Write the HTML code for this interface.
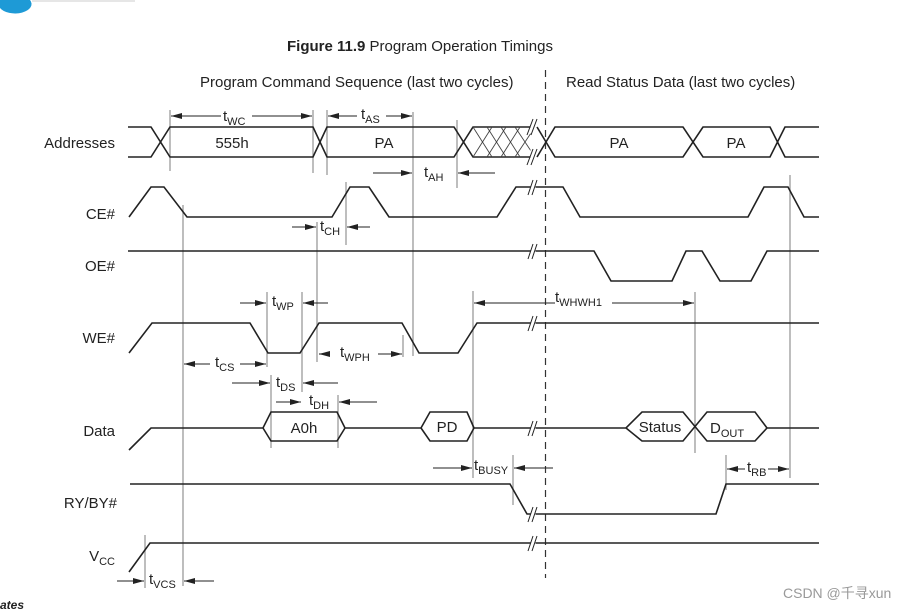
<!DOCTYPE html>
<html><head><meta charset="utf-8"><style>
body{margin:0;background:#fff;}
svg{display:block;font-family:"Liberation Sans",Arial,sans-serif;}
.s{fill:none;stroke:#222;stroke-width:1.6;}
.g{fill:none;stroke:#9a9a9a;stroke-width:1.3;}
.a{fill:none;stroke:#222;stroke-width:1.1;}
text{fill:#222;font-size:15px;}
.sub{font-size:11px;}
</style></head><body>
<svg width="905" height="609" viewBox="0 0 905 609" xmlns="http://www.w3.org/2000/svg">
<defs><marker id="ar" markerWidth="12" markerHeight="8" refX="11" refY="4" orient="auto" markerUnits="userSpaceOnUse"><path d="M0,1 L11,4 L0,7 Z" fill="#222"/></marker></defs>
<path d="M0,0 L30,0 A14,8 0 0 1 0,8 Z" fill="#1e9ad6"/>
<line x1="32" y1="1" x2="135" y2="1" stroke="#ccc"/>
<text x="287" y="51" style="font-size:15px"><tspan font-weight="bold">Figure 11.9</tspan>  Program Operation Timings</text>
<text x="200" y="87">Program Command Sequence (last two cycles)</text>
<text x="566" y="87">Read Status Data (last two cycles)</text>
<g text-anchor="end">
<text x="115" y="148">Addresses</text>
<text x="115" y="219">CE#</text>
<text x="115" y="271">OE#</text>
<text x="115" y="343">WE#</text>
<text x="115" y="436">Data</text>
<text x="117" y="508">RY/BY#</text>
<text x="115" y="561">V<tspan class="sub" dy="4">CC</tspan></text>
</g>
<line x1="545.5" y1="70" x2="545.5" y2="578" stroke="#333" stroke-width="1.2" stroke-dasharray="7,5"/>
<g class="g">
<line x1="183" y1="205" x2="183" y2="586"/>
<line x1="317" y1="222" x2="317" y2="362"/>
<line x1="346" y1="182" x2="346" y2="245"/>
<line x1="413" y1="112" x2="413" y2="356"/>
<line x1="170" y1="110" x2="170" y2="171"/>
<line x1="313" y1="110" x2="313" y2="173"/>
<line x1="327" y1="110" x2="327" y2="175"/>
<line x1="457" y1="120" x2="457" y2="188"/>
<line x1="473" y1="291" x2="473" y2="478"/>
<line x1="695" y1="292" x2="695" y2="453"/>
<line x1="790" y1="175" x2="790" y2="478"/>
<line x1="726" y1="455" x2="726" y2="490"/>
<line x1="513" y1="455" x2="513" y2="505"/>
<line x1="267" y1="292" x2="267" y2="367"/>
<line x1="302" y1="292" x2="302" y2="392"/>
<line x1="271" y1="375" x2="271" y2="448"/>
<line x1="338" y1="395" x2="338" y2="448"/>
<line x1="403" y1="335" x2="403" y2="357"/>
<line x1="145" y1="535" x2="145" y2="588"/>
</g>
<g class="s">
<path d="M128,127 L151,127 L170,157 L313,157 L327,127 L454,127 L473,157 L531,157"/>
<path d="M128,157 L151,157 L170,127 L313,127 L327,157 L454,157 L473,127 L531,127"/>
<path d="M537,127 L555,157 L683,157 L703,127 L770,127 L785,157 L819,157"/>
<path d="M537,157 L555,127 L683,127 L703,157 L770,157 L785,127 L819,127"/>
</g>
<g stroke="#444" stroke-width="0.9" fill="none">
<path d="M473,157 L492,127 M473,127 L492,157 M487,127 L506,157 M487,157 L506,127 M501,127 L520,157 M501,157 L520,127 M515,127 L531,151 M515,157 L531,133"/>
</g>
<text x="232" y="148" text-anchor="middle">555h</text>
<text x="384" y="148" text-anchor="middle">PA</text>
<text x="619" y="148" text-anchor="middle">PA</text>
<text x="736" y="148" text-anchor="middle">PA</text>
<path class="s" d="M129,217 L151,187 L164,187 L187,217 L332,217 L350,187 L369,187 L389,217 L497,217 L516,187 L563,187 L580,217 L748,217 L764,187 L788,187 L804,217 L819,217"/>
<path class="s" d="M128,251 L594,251 L611,281 L672,281 L686,251 L702,251 L720,281 L751,281 L767,251 L819,251"/>
<path class="s" d="M129,353 L152,323 L250,323 L268,353 L300,353 L319,323 L402,323 L419,353 L458,353 L477,323 L819,323"/>
<path class="s" d="M129,450 L151,428 L263,428 L271,412 L337,412 L345,428 L337,441 L271,441 L263,428 M345,428 L421,428 L430,412 L467,412 L474,428 L467,441 L430,441 L421,428 M474,428 L626,428 L642,412 L683,412 L707,441 L755,441 L767,428 L755,412 L707,412 L683,441 L642,441 L626,428 M767,428 L819,428"/>
<text x="304" y="433" text-anchor="middle">A0h</text>
<text x="447" y="432" text-anchor="middle">PD</text>
<text x="660" y="432" text-anchor="middle">Status</text>
<text x="710" y="433">D<tspan class="sub" dy="4">OUT</tspan></text>
<path class="s" d="M130,484 L510,484 L527,514 L716,514 L726,484 L819,484"/>
<path class="s" d="M129,572 L150,543 L819,543"/>
<g stroke="#fff" stroke-width="5">
<line x1="533" y1="120" x2="533" y2="164"/>
<line x1="533" y1="180" x2="533" y2="194"/>
<line x1="533" y1="244" x2="533" y2="258"/>
<line x1="533" y1="316" x2="533" y2="330"/>
<line x1="533" y1="421" x2="533" y2="435"/>
<line x1="533" y1="507" x2="533" y2="521"/>
<line x1="533" y1="536" x2="533" y2="550"/>
</g>
<g stroke="#222" stroke-width="1">
<path d="M527,135 L533,119 M531,135 L537,119 M527,165 L533,149 M531,165 L537,149"/>
<path d="M528,195 L533,180 M532,195 L537,180"/>
<path d="M528,259 L533,244 M532,259 L537,244"/>
<path d="M528,331 L533,316 M532,331 L537,316"/>
<path d="M528,436 L533,421 M532,436 L537,421"/>
<path d="M528,522 L533,507 M532,522 L537,507"/>
<path d="M528,551 L533,536 M532,551 L537,536"/>
</g>
<g class="a" marker-end="url(#ar)">
<line x1="221" y1="116" x2="171" y2="116"/><line x1="252" y1="116" x2="312" y2="116"/>
<line x1="357" y1="116" x2="328" y2="116"/><line x1="386" y1="116" x2="412" y2="116"/>
<line x1="373" y1="173" x2="412" y2="173"/><line x1="495" y1="173" x2="458" y2="173"/>
<line x1="292" y1="227" x2="316" y2="227"/><line x1="370" y1="227" x2="347" y2="227"/>
<line x1="240" y1="303" x2="266" y2="303"/><line x1="328" y1="303" x2="303" y2="303"/>
<line x1="555" y1="303" x2="474" y2="303"/><line x1="612" y1="303" x2="694" y2="303"/>
<line x1="327" y1="354" x2="319" y2="354"/><line x1="378" y1="354" x2="402" y2="354"/>
<line x1="210" y1="364" x2="184" y2="364"/><line x1="240" y1="364" x2="266" y2="364"/>
<line x1="232" y1="383" x2="270" y2="383"/><line x1="338" y1="383" x2="303" y2="383"/>
<line x1="276" y1="402" x2="301" y2="402"/><line x1="377" y1="402" x2="339" y2="402"/>
<line x1="433" y1="468" x2="472" y2="468"/><line x1="553" y1="468" x2="514" y2="468"/>
<line x1="745" y1="469" x2="727" y2="469"/><line x1="768" y1="469" x2="789" y2="469"/>
<line x1="117" y1="581" x2="144" y2="581"/><line x1="214" y1="581" x2="184" y2="581"/>
</g>
<g>
<text x="223" y="121">t<tspan class="sub" dy="4">WC</tspan></text>
<text x="361" y="119">t<tspan class="sub" dy="4">AS</tspan></text>
<text x="424" y="177">t<tspan class="sub" dy="4">AH</tspan></text>
<text x="320" y="231">t<tspan class="sub" dy="4">CH</tspan></text>
<text x="272" y="306">t<tspan class="sub" dy="4">WP</tspan></text>
<text x="555" y="302">t<tspan class="sub" dy="4">WHWH1</tspan></text>
<text x="340" y="357">t<tspan class="sub" dy="4">WPH</tspan></text>
<text x="215" y="367">t<tspan class="sub" dy="4">CS</tspan></text>
<text x="276" y="387">t<tspan class="sub" dy="4">DS</tspan></text>
<text x="309" y="405">t<tspan class="sub" dy="4">DH</tspan></text>
<text x="474" y="470">t<tspan class="sub" dy="4">BUSY</tspan></text>
<text x="747" y="472">t<tspan class="sub" dy="4">RB</tspan></text>
<text x="149" y="584">t<tspan class="sub" dy="4">VCS</tspan></text>
</g>
<text x="0" y="609" style="font-size:12px;font-weight:bold;font-style:italic">ates</text>
<text x="783" y="598" style="font-size:14px;fill:#999" font-family="Liberation Sans, Noto Sans CJK SC, sans-serif">CSDN @千寻xun</text>
</svg>
</body></html>
